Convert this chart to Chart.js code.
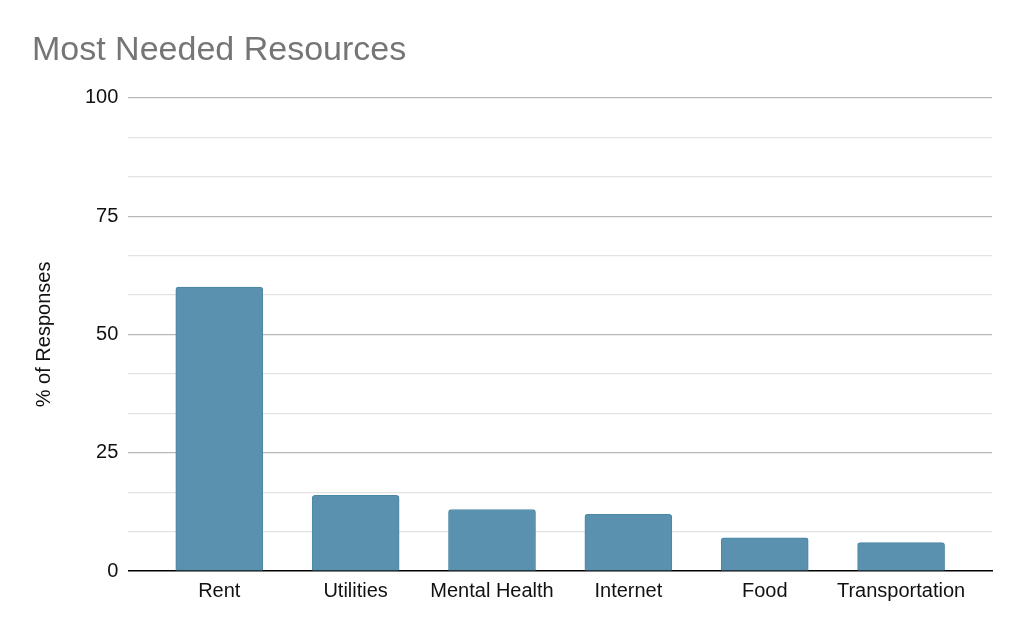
<!DOCTYPE html>
<html>
<head>
<meta charset="utf-8">
<script src="https://cdn.jsdelivr.net/npm/chart.js@4/dist/chart.umd.min.js"></script>
<style>
  html, body { margin: 0; padding: 0; background: #fff; }
  #wrap { width: 1024px; height: 633px; position: relative; }
</style>
</head>
<body>
<div id="wrap"><canvas id="chart"></canvas></div>
<script>
const categories = ["Rent", "Utilities", "Mental Health", "Internet", "Food", "Transportation"];
const responses = [60, 16, 13, 12, 7, 6];
const yTicks = [0, 25, 50, 75, 100];

const points = categories.map((c, i) => ({ x: i, y: responses[i] }));
const FONT = "Liberation Sans, Arial, sans-serif";

new Chart(document.getElementById("chart"), {
  type: "bar",
  data: {
    datasets: [
      {
        label: "% of Responses",
        data: points,
        backgroundColor: "#5a91af",
        borderColor: "#4a86a7",
        borderWidth: 1,
        borderRadius: { topLeft: 3, topRight: 3 },
        borderSkipped: "bottom",
        barThickness: 87,
      },
    ],
  },
  options: {
    responsive: true,
    maintainAspectRatio: false,
    animation: false,
    layout: { padding: { left: 32, right: 32, top: 0, bottom: 22 } },
    plugins: {
      legend: { display: false },
      tooltip: { enabled: false },
      title: {
        display: true,
        text: "Most Needed Resources",
        align: "start",
        color: "#757575",
        font: { family: FONT, size: 34, weight: "normal" },
        padding: { top: 30, bottom: 27 },
      },
    },
    scales: {
      x: {
        type: "linear",
        offset: false,
        min: -2 / 3,
        max: 5 + 2 / 3,
        afterBuildTicks: (scale) => {
          scale.ticks = categories.map((c, i) => ({ value: i }));
        },
        grid: { display: false, drawTicks: false },
        border: { color: "#000", width: 1.5 },
        ticks: {
          color: "#111",
          padding: 8,
          maxRotation: 0,
          autoSkip: false,
          font: { family: FONT, size: 20 },
          callback: (v) => categories[v],
        },
      },
      y: {
        min: 0,
        max: 100,
        afterBuildTicks: (scale) => {
          const t = [];
          for (let k = 0; k <= 12; k++) t.push({ value: (k * 25) / 3 });
          scale.ticks = t;
        },
        grid: {
          drawTicks: false,
          color: (ctx) => {
            const v = ctx.tick.value;
            if (v === 0) return "rgba(0,0,0,0)";
            return yTicks.some((t) => Math.abs(t - v) < 0.01) ? "#b8b8b8" : "#e3e3e3";
          },
          lineWidth: 1.2,
        },
        border: { display: false },
        ticks: {
          color: "#111",
          padding: 10,
          font: { family: FONT, size: 20 },
          callback: (v) => {
            const t = yTicks.find((t) => Math.abs(t - v) < 0.01);
            return t === undefined ? "" : String(t);
          },
        },
        title: {
          display: true,
          text: "% of Responses",
          color: "#111",
          padding: { top: 0, bottom: 19 },
          font: { family: FONT, size: 20 },
        },
      },
    },
  },
});
</script>
</body>
</html>
